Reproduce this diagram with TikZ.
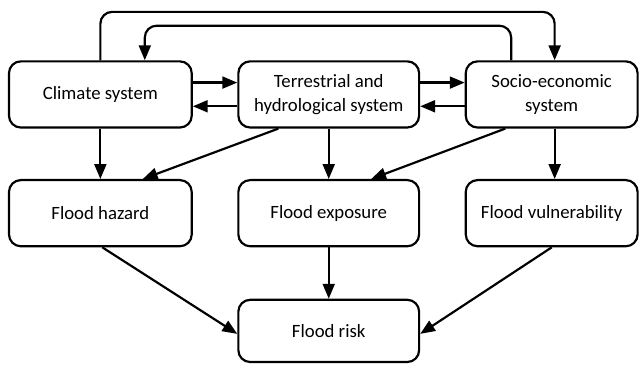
\documentclass[tikz,border=0pt]{standalone}
\usepackage{fontspec}
\setmainfont{Carlito}
\usetikzlibrary{matrix,arrows.meta}

\begin{document}
\begin{tikzpicture}[
            box/.style={draw, line width=2.2pt, rounded corners=12pt, align=center,
                font=\fontsize{19}{24}\selectfont, minimum height=67pt, inner sep=2pt},
            arr/.style={line width=2.2pt, -{Triangle[length=15pt,width=12pt]}},
            column 1/.style={nodes={minimum width=185pt}},
            column 2/.style={nodes={minimum width=183pt}},
            column 3/.style={nodes={minimum width=174pt}}]
            \matrix (m) [column sep=45pt, row sep=51pt
                %nodes={draw}
            ]
            {
                \node[box] (clim) {Climate system}; &
                \node[box] (terr) {Terrestrial and\\hydrological system}; &
                \node[box] (soc) {Socio-economic\\system}; \\
                \node[box] (haz) {Flood hazard}; &
                \node[box] (expo) {Flood exposure}; &
                \node[box] (vuln) {Flood vulnerability}; \\[1pt]
                & \node[box, minimum height=63pt] (risk) {Flood risk}; & \\
            };

            \draw[arr, rounded corners=12pt] (clim.north) -- ++(0,49pt) -| ([xshift=3pt]soc.north);
            \draw[arr, rounded corners=12pt] ([xshift=-41pt]soc.north) -- ++(0,35pt) -| ([xshift=45pt]clim.north);

            \draw[arr] ([yshift=12pt]clim.east) -- ([yshift=12pt]terr.west);
            \draw[arr] ([yshift=-12pt]terr.west) -- ([yshift=-12pt]clim.east);
            \draw[arr] ([yshift=12pt]terr.east) -- ([yshift=12pt]soc.west);
            \draw[arr] ([yshift=-12pt]soc.west) -- ([yshift=-12pt]terr.east);

            \draw[arr] (clim) -- (haz);
            \draw[arr] (terr) -- (expo);
            \draw[arr] ([xshift=3pt]soc.south) -- ([xshift=3pt]vuln.north);
            \draw[arr] ([xshift=-51pt]terr.south) -- ([xshift=43pt]haz.north);
            \draw[arr] ([xshift=-47pt]soc.south) -- ([xshift=43pt]expo.north);

            \draw[arr] ([xshift=2pt]haz.south) -- ([yshift=-3pt]risk.west);
            \draw[arr] (expo) -- (risk);
            \draw[arr] (vuln.south) -- ([yshift=-3pt]risk.east);

            \path (soc.east |- risk.south) ++(2pt,-2pt) coordinate (br);
            \path (clim.north west) ++(-8pt,61pt) coordinate (tl);
            \useasboundingbox (tl) rectangle (br);
        \end{tikzpicture}
\end{document}
